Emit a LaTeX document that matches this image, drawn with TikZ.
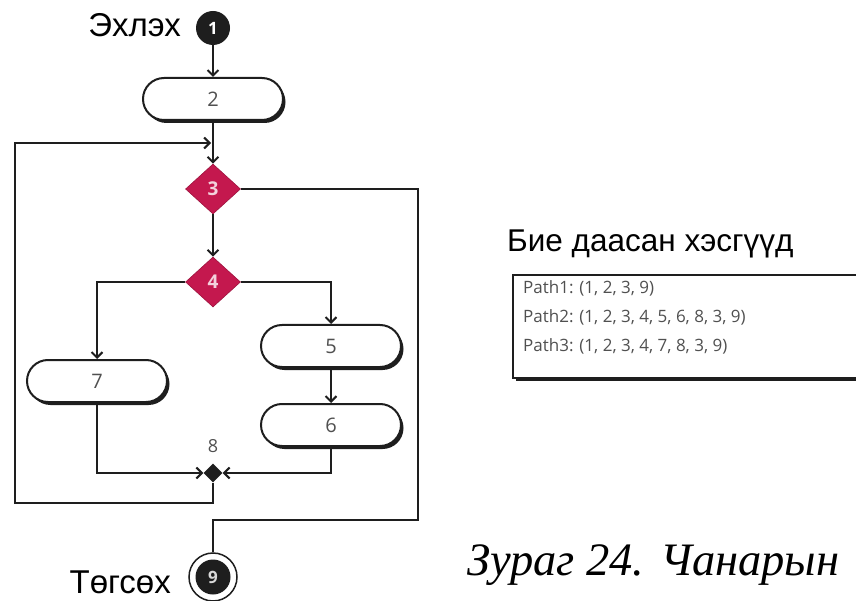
\documentclass[tikz,border=0pt]{standalone}
\usepackage{fontspec}
\setmainfont{Liberation Sans}
\newfontfamily\capfont{Liberation Serif}
\newfontfamily\lblfont{Open Sans}
\usetikzlibrary{arrows.meta,shapes.geometric,shadows}
\definecolor{crim}{RGB}{196,24,78}
\definecolor{lbl}{RGB}{80,80,80}
\definecolor{ink}{RGB}{30,30,30}
\begin{document}
\begin{tikzpicture}[x=1pt,y=-1pt,
  flow/.style={line width=2.2pt, draw=ink},
  arr/.style={flow, -{Straight Barb[length=5.5pt,width=11pt,line width=2pt]}},
  boxshadow/.style={drop shadow={shadow xshift=2.5pt, shadow yshift=-3pt, fill=ink, opacity=1}},
  actbox/.style={draw=ink, line width=2pt, fill=white, rounded corners=21pt,
    minimum width=140pt, minimum height=42pt, inner sep=0pt,
    font=\lblfont\fontsize{20}{20}\selectfont, text=lbl, boxshadow},
  decision/.style={diamond, fill=crim, draw=crim!80!black, line width=0.6pt, inner sep=0pt,
    minimum width=55pt, minimum height=50pt,
    font=\lblfont\bfseries\fontsize{19}{19}\selectfont, text=white!80!crim},
  merge/.style={diamond, fill=ink, inner sep=0pt, minimum size=19pt},
  startdot/.style={circle, fill=ink, inner sep=0pt, minimum size=34pt,
    font=\lblfont\bfseries\fontsize{17}{17}\selectfont, text=white},
  endring/.style={circle, draw=ink, line width=1.5pt, fill=white, inner sep=0pt, minimum size=48pt},
  enddot/.style={circle, fill=ink, inner sep=0pt, minimum size=35pt,
    font=\lblfont\bfseries\fontsize{17}{17}\selectfont, text=white!85!black},
  bigtext/.style={font=\fontsize{33}{33}\selectfont, text=black, inner sep=0pt},
  pathtext/.style={font=\lblfont\fontsize{17}{17}\selectfont, text=lbl, inner sep=0pt, anchor=base west}
]
\useasboundingbox (0,0) rectangle (856,601);

% start / end markers
\node[startdot] (n1) at (213,28) {1};
\node[bigtext, anchor=base east] (tstart) at (181,37) {Эхлэх};
\node[endring] (n9) at (213,577) {};
\node[enddot] (n9in) at (n9.center) {9};
\node[bigtext, anchor=base east] (tend) at (171,593) {Төгсөх};

% activities and decisions
\node[actbox] (b2) at (213,99) {2};
\node[decision] (d3) at (213,189) {3};
\node[decision] (d4) at (213,282) {4};
\node[actbox] (b5) at (331,346) {5};
\node[actbox] (b6) at (331,425) {6};
\node[actbox] (b7) at (97,381) {7};
\node[merge] (d8) at (213,473) {};
\node[font=\lblfont\fontsize{18}{18}\selectfont, text=lbl, inner sep=0pt] (t8) at (213,446) {8};

% routing corners
\coordinate (lb) at (15,503);
\coordinate (lt) at (15,143);
\coordinate (jn) at (211,143);
\coordinate (rb) at (418,520);

% connectors
\draw[arr] (n1) -- (b2);
\draw[arr] (b2) -- (d3);
\draw[arr] (d3) -- (d4);
\draw[arr] (d4.west) -| (b7.north);
\draw[arr] (d4.east) -| (b5.north);
\draw[arr] (b5) -- (b6);
\draw[arr] (b7.south) |- (d8.west);
\draw[arr] (b6.south) |- (d8.east);
\draw[arr] (d8.south) |- (lb) -- (lt) -- (jn);
\draw[flow] (d3.east) -| (rb) -| (n9.north);

% independent paths panel
\node[bigtext, font=\fontsize{31.5}{31.5}\selectfont, anchor=base west] (ttitle) at (507,252) {Бие даасан хэсгүүд};
\draw[draw=ink, line width=1.6pt, fill=white, boxshadow] (513,275) rectangle (880,378);
\node[pathtext] (p1) at (523,294) {Path1: (1, 2, 3, 9)};
\node[pathtext] (p2) at (523,323) {Path2: (1, 2, 3, 4, 5, 6, 8, 3, 9)};
\node[pathtext] (p3) at (523,351) {Path3: (1, 2, 3, 4, 7, 8, 3, 9)};

% caption
\node[font=\capfont\itshape\fontsize{46.5}{46.5}\selectfont, inner sep=0pt, anchor=base west] (cap) at (467,575) {Зураг 24. Чанарын};
\end{tikzpicture}
\end{document}
